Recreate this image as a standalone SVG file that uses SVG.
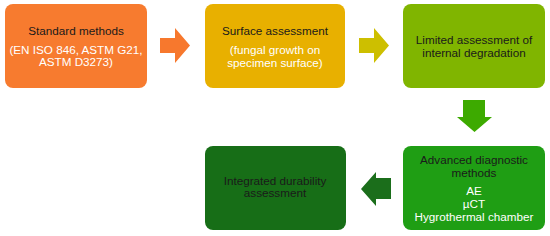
<svg xmlns="http://www.w3.org/2000/svg" width="550" height="236" viewBox="0 0 550 236">
<style>
.box{stroke:none}
text{font-family:"Liberation Sans",Arial,sans-serif;font-size:11.7px;text-anchor:middle}
.d{fill:#1a1a1a}
.w{fill:#ffffff}
</style>
<rect width="550" height="236" fill="#ffffff"/>
<g id="n1">
<rect class="box" x="5" y="4" width="142" height="84" rx="8" fill="#F77B2F"/>
<text class="d" x="76" y="35">Standard methods</text>
<text class="w" x="76" y="54">(EN ISO 846, ASTM G21,</text>
<text class="w" x="76" y="66">ASTM D3273)</text>
</g>
<g id="n2">
<rect class="box" x="205" y="4" width="140" height="84" rx="8" fill="#E8B000"/>
<text class="d" x="275" y="35">Surface assessment</text>
<text class="w" x="275" y="54">(fungal growth on</text>
<text class="w" x="275" y="67">specimen surface)</text>
</g>
<g id="n3">
<rect class="box" x="403" y="4" width="142" height="84" rx="8" fill="#80B500"/>
<text class="d" x="474" y="44">Limited assessment of</text>
<text class="d" x="474" y="57">internal degradation</text>
</g>
<g id="n4">
<rect class="box" x="403" y="146" width="142" height="84" rx="8" fill="#1F9E14"/>
<text class="d" x="474" y="164">Advanced diagnostic</text>
<text class="d" x="474" y="177">methods</text>
<text class="w" x="474" y="195">AE</text>
<text class="w" x="474" y="208">µCT</text>
<text class="w" x="474" y="221">Hygrothermal chamber</text>
</g>
<g id="n5">
<rect class="box" x="205" y="146" width="141" height="84" rx="8" fill="#176E17"/>
<text class="d" x="275" y="185">Integrated durability</text>
<text class="d" x="275" y="197">assessment</text>
</g>
<g id="connectors">
<polygon points="160,38 175,38 175,28 190,45.5 175,63 175,53 160,53" fill="#F7782D"/>
<polygon points="359,38 374,38 374,28 389,45.5 374,63 374,53 359,53" fill="#CDBF00"/>
<polygon points="463,100 485,100 485,117 492,117 474.5,132 457,117 463,117" fill="#3DAA00"/>
<polygon points="391,178 376,178 376,172 361,189 376,206 376,199 391,199" fill="#1B6E1B"/>
</g>
</svg>
